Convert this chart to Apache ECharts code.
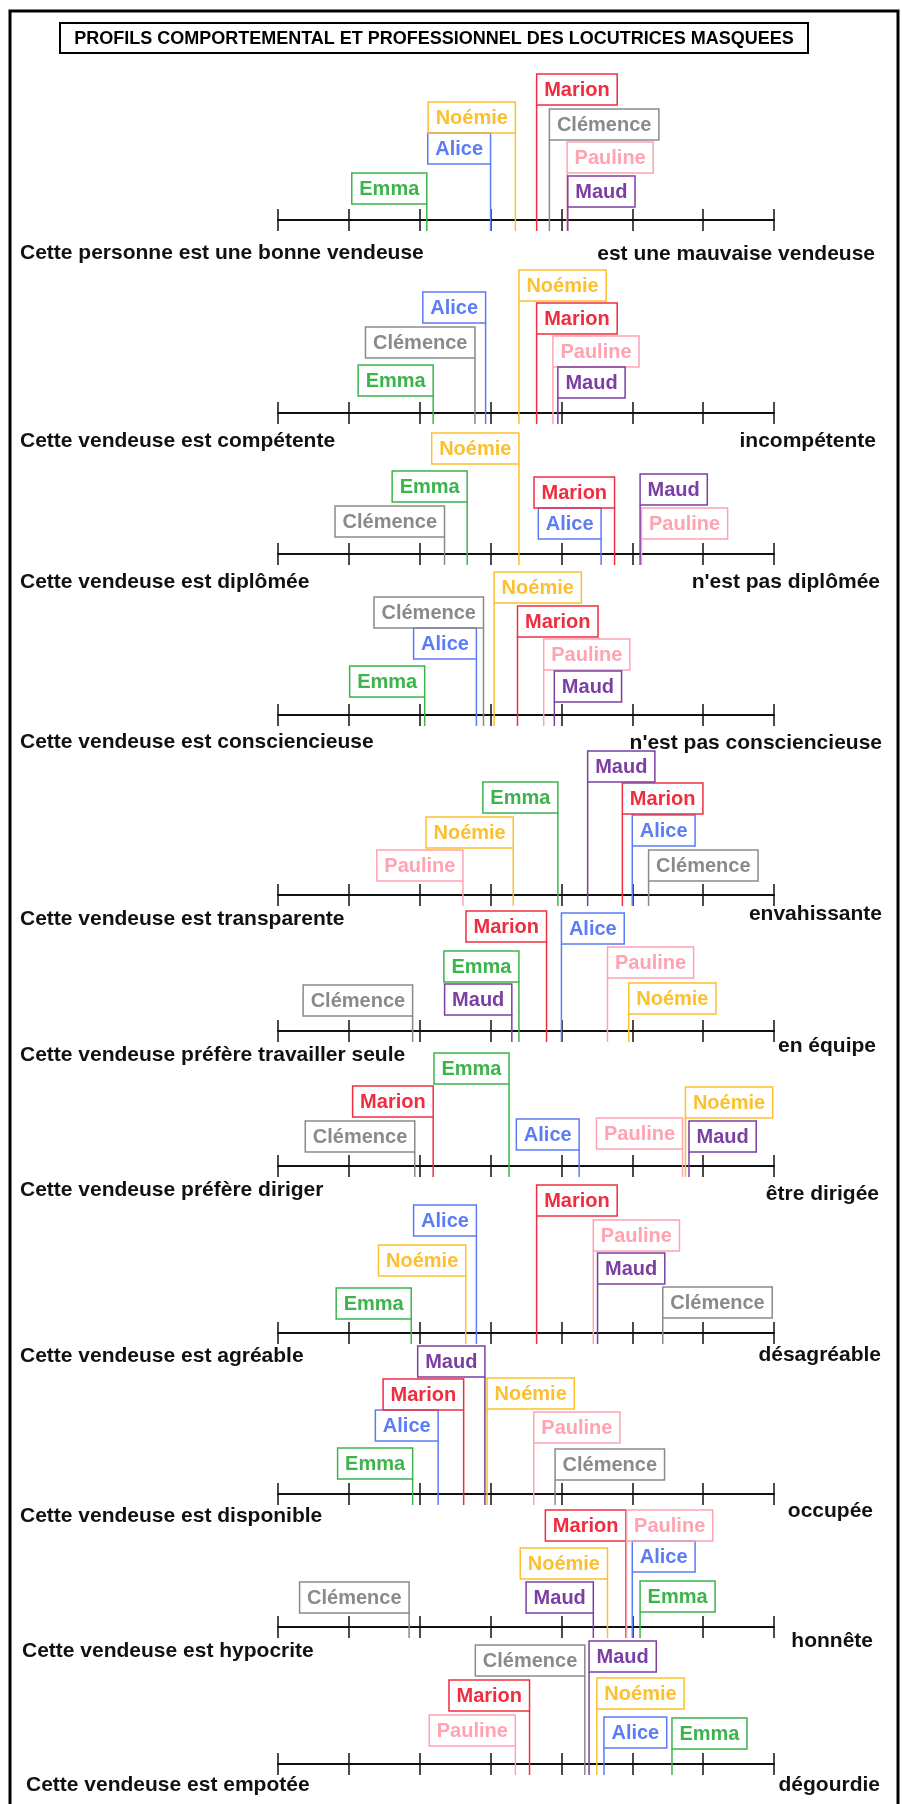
<!DOCTYPE html>
<html lang="fr">
<head>
<meta charset="utf-8">
<title>Profils comportemental et professionnel des locutrices masquées</title>
<script src="https://cdn.jsdelivr.net/npm/echarts@6.0.0/dist/echarts.min.js"></script>
<style>
  html, body { margin: 0; padding: 0; background: #fff; }
  #chart { width: 902px; height: 1804px; }
</style>
</head>
<body>
<div id="chart"></div>
<script>
// locutrices (même ordre dans toutes les lignes ci-dessous)
const locutrices = ['Emma', 'Alice', 'Noémie', 'Marion', 'Clémence', 'Pauline', 'Maud'];

// pôles de chaque échelle
const polesGauche = [
  'Cette personne est une bonne vendeuse',
  'Cette vendeuse est compétente',
  'Cette vendeuse est diplômée',
  'Cette vendeuse est consciencieuse',
  'Cette vendeuse est transparente',
  'Cette vendeuse préfère travailler seule',
  'Cette vendeuse préfère diriger',
  'Cette vendeuse est agréable',
  'Cette vendeuse est disponible',
  'Cette vendeuse est hypocrite',
  'Cette vendeuse est empotée'
];
const polesDroite = [
  'est une mauvaise vendeuse',
  'incompétente',
  "n'est pas diplômée",
  "n'est pas consciencieuse",
  'envahissante',
  'en équipe',
  'être dirigée',
  'désagréable',
  'occupée',
  'honnête',
  'dégourdie'
];

// note de chaque locutrice sur l'échelle (0 = pôle gauche, 7 = pôle droit)
const notes = [
  [2.10, 3.00, 3.35, 3.65, 3.83, 4.08, 4.09],
  [2.19, 2.93, 3.40, 3.65, 2.78, 3.88, 3.95],
  [2.67, 4.56, 3.40, 4.75, 2.35, 5.13, 5.11],
  [2.07, 2.80, 3.05, 3.38, 2.90, 3.75, 3.90],
  [3.95, 5.00, 3.32, 4.86, 5.23, 2.61, 4.37],
  [3.40, 4.00, 4.95, 3.79, 1.90, 4.65, 3.30],
  [3.26, 4.25, 5.75, 2.19, 1.93, 5.71, 5.80],
  [1.88, 2.80, 2.65, 3.65, 5.43, 4.45, 4.51],
  [1.90, 2.26, 2.95, 2.62, 3.91, 3.61, 2.92],
  [5.11, 5.00, 4.65, 4.91, 1.85, 4.92, 4.45],
  [5.56, 4.60, 4.50, 3.55, 4.33, 3.35, 4.39]
];

// hauteur du bas de l'étiquette au-dessus de l'axe
const hauteurs = [
  [16, 56, 87, 115, 80, 47, 13],
  [17, 90, 112, 79, 55, 46, 15],
  [52, 15, 90, 46, 17, 15, 49],
  [18, 56, 112, 78, 87, 45, 13],
  [82, 49, 47, 81, 14, 14, 113],
  [49, 87, 17, 89, 15, 53, 16],
  [82, 16, 48, 49, 14, 17, 14],
  [14, 97, 57, 117, 15, 82, 49],
  [15, 53, 85, 84, 14, 51, 117],
  [15, 55, 48, 86, 14, 86, 14],
  [15, 16, 55, 53, 88, 18, 92]
];

// côté de l'étiquette par rapport au trait : -1 à gauche, 1 à droite
const cotes = [
  [-1, -1, -1, 1, 1, 1, 1],
  [-1, -1, 1, 1, -1, 1, 1],
  [-1, -1, -1, -1, -1, 1, 1],
  [-1, -1, 1, 1, -1, 1, 1],
  [-1, 1, -1, 1, 1, -1, 1],
  [-1, 1, 1, -1, -1, 1, -1],
  [-1, -1, 1, -1, -1, -1, 1],
  [-1, -1, -1, 1, 1, 1, 1],
  [-1, -1, 1, -1, 1, 1, -1],
  [1, 1, -1, -1, -1, 1, -1],
  [1, 1, 1, -1, -1, -1, 1]
];

// mise en page
const axeY = [220, 413, 554, 715, 895, 1031, 1166, 1333, 1494, 1627, 1764];
const decalGauche = [33, 28, 28, 27, 24, 24, 24, 23, 22, 24, 21];
const decalDroite = [34, 28, 28, 28, 19, 15, 28, 22, 17, 14, 21];
const xGauche = [20, 20, 20, 20, 20, 20, 20, 20, 20, 22, 26];
const xDroite = [875, 876, 880, 882, 882, 876, 879, 881, 873, 873, 880];

const couleurs = ['#3cb44b', '#5b7cf5', '#fdbf2d', '#ef2d3f', '#8a8a8a', '#ffa3b1', '#7b3fa3'];
const policeNom = 'bold 20px "Liberation Sans", Arial, sans-serif';
const policePole = 'bold 21px "Liberation Sans", Arial, sans-serif';

const ctx = document.createElement('canvas').getContext('2d');
ctx.font = policeNom;
const largeurs = locutrices.map(function (n) { return ctx.measureText(n).width; });

function dessinerEtiquette(params, api) {
  const i = api.value(2);
  const cote = api.value(3);
  const haut = api.coord([api.value(0), api.value(1)]);
  const pied = api.coord([api.value(0), -11]);
  const w = largeurs[i] + 15;
  const h = 31;
  const x0 = cote < 0 ? haut[0] - w : haut[0];
  return {
    type: 'group',
    children: [
      { type: 'line', shape: { x1: haut[0], y1: haut[1], x2: pied[0], y2: pied[1] },
        style: { stroke: couleurs[i], lineWidth: 1.5 } },
      { type: 'rect', shape: { x: x0, y: haut[1] - h, width: w, height: h },
        style: { fill: 'none', stroke: couleurs[i], lineWidth: 1.5 } },
      { type: 'text', x: x0 + w / 2, y: haut[1] - h / 2 + 1,
        style: { text: locutrices[i], font: policeNom, fill: couleurs[i],
                 align: 'center', verticalAlign: 'middle', textAlign: 'center', textVerticalAlign: 'middle' } }
    ]
  };
}

const grid = [], xAxis = [], yAxis = [], series = [];
const graphic = [
  { type: 'rect', shape: { x: 10, y: 11, width: 888, height: 1810 },
    style: { fill: 'none', stroke: '#000', lineWidth: 3 } },
  { type: 'rect', shape: { x: 60, y: 23, width: 748, height: 30 },
    style: { fill: '#fff', stroke: '#000', lineWidth: 2 } },
  { type: 'text', x: 434, y: 39,
    style: { text: 'PROFILS COMPORTEMENTAL ET PROFESSIONNEL DES LOCUTRICES MASQUEES',
             font: 'bold 18px "Liberation Sans", Arial, sans-serif', fill: '#000',
             align: 'center', verticalAlign: 'middle', textAlign: 'center', textVerticalAlign: 'middle' } }
];

axeY.forEach(function (y, r) {
  grid.push({ left: 278, right: 128, top: y - 150, height: 161 });
  // graduations qui traversent l'axe
  xAxis.push({
    gridIndex: r, type: 'value', min: 0, max: 7, interval: 1, position: 'bottom',
    axisLine: { show: false, onZero: false },
    axisTick: { show: true, inside: true, length: 22, lineStyle: { color: '#111', width: 1.5 } },
    axisLabel: { show: false },
    splitLine: { show: false }
  });
  // trait de l'axe
  xAxis.push({
    gridIndex: r, type: 'value', min: 0, max: 7, interval: 1, position: 'top',
    axisLine: { show: true, onZero: true, lineStyle: { color: '#111', width: 2 } },
    axisTick: { show: false },
    axisLabel: { show: false },
    splitLine: { show: false }
  });
  yAxis.push({ gridIndex: r, type: 'value', min: -11, max: 150, show: false });

  series.push({
    type: 'custom',
    xAxisIndex: 2 * r,
    yAxisIndex: r,
    silent: true,
    data: locutrices.map(function (n, i) {
      return [notes[r][i], hauteurs[r][i], i, cotes[r][i]];
    }),
    renderItem: dessinerEtiquette
  });

  graphic.push({
    type: 'text', x: xGauche[r], y: y + decalGauche[r],
    style: { text: polesGauche[r], font: policePole, fill: '#111',
             align: 'left', verticalAlign: 'middle', textAlign: 'left', textVerticalAlign: 'middle' }
  });
  graphic.push({
    type: 'text', x: xDroite[r], y: y + decalDroite[r],
    style: { text: polesDroite[r], font: policePole, fill: '#111',
             align: 'right', verticalAlign: 'middle', textAlign: 'right', textVerticalAlign: 'middle' }
  });
});

const myChart = echarts.init(document.getElementById('chart'), null, { renderer: 'canvas' });
myChart.setOption({
  backgroundColor: '#fff',
  animation: false,
  grid: grid,
  xAxis: xAxis,
  yAxis: yAxis,
  series: series,
  graphic: graphic
});
</script>
</body>
</html>
